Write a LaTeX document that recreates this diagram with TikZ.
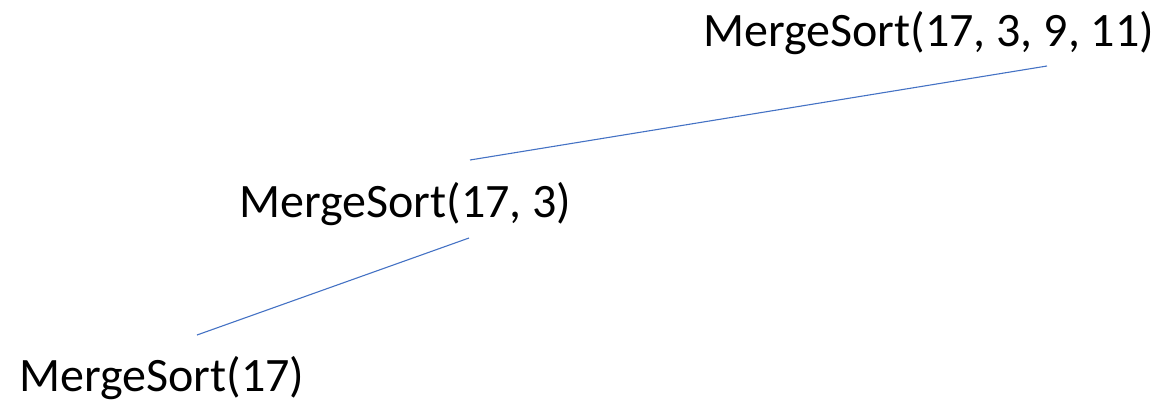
\documentclass[tikz,border=0pt]{standalone}
\usepackage{fontspec}
\setmainfont{Carlito}
\definecolor{linkblue}{HTML}{4472C4}
\begin{document}
\begin{tikzpicture}[x=1pt,y=-1pt,
  label/.style={inner sep=0pt, anchor=base west, font=\fontsize{48}{56}\selectfont},
  link/.style={draw=linkblue, line width=1.1pt}]
\useasboundingbox (0,0) rectangle (1163,402);
\node[label] (top) at (703,46) {MergeSort(17, 3, 9, 11)};
\node[label] (mid) at (239,217) {MergeSort(17, 3)};
\node[label] (bot) at (19,391) {MergeSort(17)};
\coordinate (topL) at (1047,66);
\coordinate (midU) at (470,160);
\coordinate (midL) at (469,238);
\coordinate (botU) at (197,335);
\draw[link] (topL) -- (midU);
\draw[link] (midL) -- (botU);
\end{tikzpicture}
\end{document}
